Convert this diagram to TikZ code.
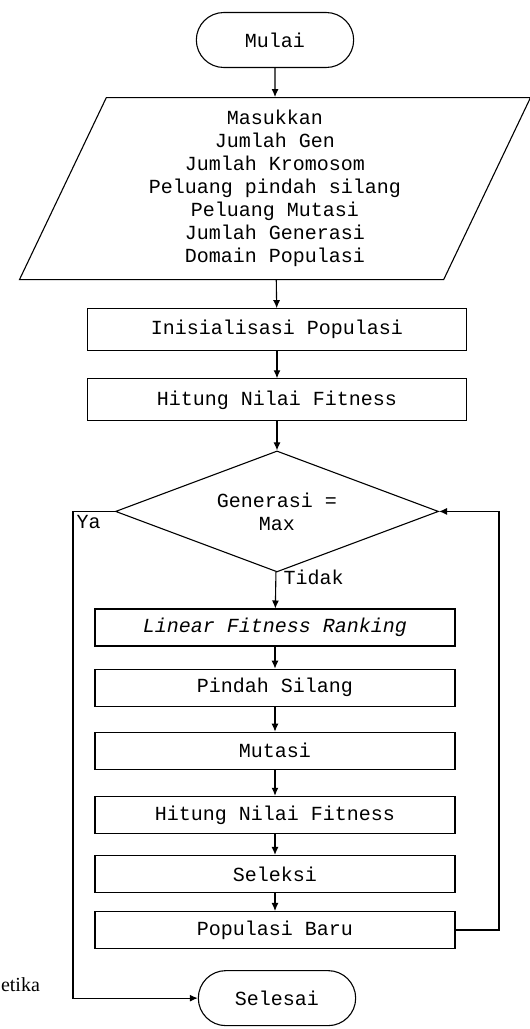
\documentclass[tikz,border=0pt]{standalone}
\usepackage{fontspec}
\setmonofont{Liberation Mono}
\setmainfont{Liberation Serif}
\usetikzlibrary{positioning,arrows.meta,shapes.misc,shapes.geometric}

\begin{document}
\begin{tikzpicture}[x=1pt, y=-1pt, >={Latex[length=8pt,width=7pt]}, line width=1.1pt,
  every node/.style={font=\ttfamily\fontsize{20}{23}\selectfont}]
\tikzstyle{term}=[rounded rectangle, draw, minimum width=164pt, minimum height=55pt]
\tikzstyle{proc}=[rectangle, draw, minimum width=360pt, minimum height=37pt, inner sep=1pt]
\tikzstyle{wide}=[proc, minimum width=379pt, minimum height=42pt]
\useasboundingbox (0,0) rectangle (530,1029);

% Top part
\node[term] (mulai) at (275,40) {Mulai};
\node[trapezium, draw, trapezium left angle=61, trapezium right angle=119, trapezium stretches body,
  minimum width=511pt, minimum height=182pt, align=center, inner sep=0pt,
  below=29pt of mulai] (input) {Masukkan\\Jumlah Gen\\Jumlah Kromosom\\Peluang pindah silang\\Peluang Mutasi\\Jumlah Generasi\\Domain Populasi};
\node[wide, below=28pt of input, xshift=2pt] (init) {Inisialisasi Populasi};
\node[wide, below=27pt of init] (fit1) {Hitung Nilai Fitness};
\node[diamond, draw, aspect=2.67, minimum width=323pt, minimum height=121pt, inner sep=0pt,
  align=center, below=29pt of fit1] (cek) {Generasi =\\Max};

% Loop body
\node[proc, below=36pt of cek, xshift=-2pt] (rank) {\itshape Linear Fitness Ranking};
\node[proc, below=22pt of rank] (silang) {Pindah Silang};
\node[proc, below=25pt of silang] (mutasi) {Mutasi};
\node[proc, below=26pt of mutasi] (fit2) {Hitung Nilai Fitness};
\node[proc, below=21pt of fit2] (seleksi) {Seleksi};
\node[proc, below=18pt of seleksi] (baru) {Populasi Baru};
\node[term, below=21pt of baru, xshift=2pt] (selesai) {Selesai};

\coordinate (ya) at (73,0);
\coordinate (kanan) at (499,0);
\node[font=\rmfamily\fontsize{20}{23}\selectfont, anchor=west, inner sep=0pt] (cap) at (0.5,985) {etika};

% Connections
\draw[->] (mulai) -- (input);
\draw[->] (input) -- (init);
\draw[->] (init) -- (fit1);
\draw[->] (fit1) -- (cek);
\draw[->] (cek) -- node[right, pos=0.15, xshift=4pt] {Tidak} (rank);
\draw[->] (rank) -- (silang);
\draw[->] (silang) -- (mutasi);
\draw[->] (mutasi) -- (fit2);
\draw[->] (fit2) -- (seleksi);
\draw[->] (seleksi) -- (baru);
\draw[->] (baru.east) -| (kanan |- cek.east) -- (cek.east);
\draw[->] (cek.west) -- (ya |- cek.west) node[below right, inner sep=3pt] {Ya} |- (selesai.west);
\end{tikzpicture}
\end{document}
